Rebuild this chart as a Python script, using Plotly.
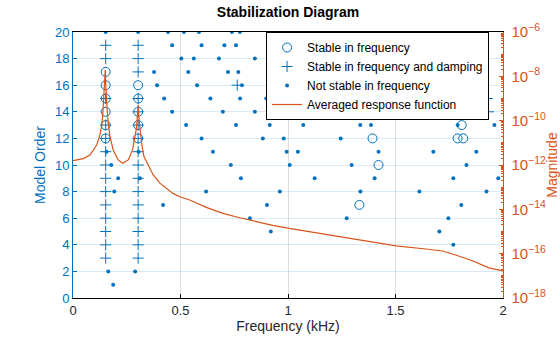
import plotly.graph_objects as go

# ---------------- data ----------------
# Stable in frequency (open circles): frequency (kHz), model order
stab_freq_f = [0.152, 0.152, 0.152, 0.152, 0.152, 0.152,
               0.303, 0.303, 0.303, 0.303, 0.303,
               1.834, 1.820, 1.808, 1.393, 1.789, 1.815, 1.421, 1.332]
stab_freq_o = [12, 13, 14, 15, 16, 17,
               12, 13, 14, 15, 16,
               15, 14, 13, 12, 12, 12, 10, 7]

# Stable in frequency and damping (plus)
stab_damp_f = [0.152] * 14 + [0.303] * 16 + [0.764, 1.610, 1.927, 1.212, 1.932]
stab_damp_o = [3, 4, 5, 6, 7, 8, 9, 10, 11, 12, 13, 15, 18, 19,
               3, 4, 5, 6, 7, 8, 9, 10, 11, 12, 13, 14, 15, 17, 18, 19,
               16, 15, 15, 14, 14]

# Not stable in frequency (dots)
unstab_f = [
    # order 20
    0.152, 0.303, 0.442, 0.516, 0.586, 0.739, 0.776, 0.941, 1.061, 1.196, 1.242,
    1.355, 1.421, 1.595, 1.762, 1.808, 1.877,
    # order 19
    0.461, 0.598, 0.704, 0.758,
    # order 18
    0.504, 0.562, 0.679, 0.846,
    # order 17
    0.377, 0.536, 0.721, 0.769,
    # order 16
    0.391, 0.577, 0.786,
    # order 15
    0.424, 0.639, 0.777, 0.899, 1.092, 1.205, 1.348, 1.630,
    # order 14
    0.461, 0.697, 0.846, 1.004, 1.277, 1.505, 1.666,
    # order 13
    0.526, 0.758, 0.915, 1.071, 1.336, 1.386, 1.789, 1.960,
    # order 12
    0.598, 0.883, 0.980, 1.245,
    # order 11
    0.156, 0.305, 0.651, 0.994, 1.046, 1.421, 1.676, 1.876,
    # order 10
    0.178, 0.734, 1.008, 1.296, 1.830,
    # order 9
    0.210, 0.311, 0.781, 1.124, 1.403, 1.769, 1.978,
    # order 8
    0.192, 0.619, 0.962, 1.337, 1.611, 1.923,
    # order 7
    0.419, 0.902, 1.806,
    # order 6
    0.823, 1.273, 1.746,
    # order 5
    0.920, 1.704,
    # order 4
    1.769,
    # order 2
    0.164, 0.289,
    # order 1
    0.187,
]
unstab_o = ([20] * 17 + [19] * 4 + [18] * 4 + [17] * 4 + [16] * 3 + [15] * 8 +
            [14] * 7 + [13] * 8 + [12] * 4 + [11] * 8 + [10] * 5 + [9] * 7 +
            [8] * 6 + [7] * 3 + [6] * 3 + [5] * 2 + [4] * 1 + [2] * 2 + [1] * 1)

# Averaged response function: frequency (kHz), log10(magnitude)
frf_f = [0.000, 0.048, 0.079, 0.110, 0.125, 0.133, 0.138, 0.142, 0.145, 0.147,
         0.149, 0.150, 0.151, 0.153, 0.156, 0.159, 0.165, 0.172, 0.187, 0.210,
         0.231, 0.257, 0.277, 0.289, 0.294, 0.297, 0.300, 0.302, 0.303, 0.304,
         0.306, 0.310, 0.314, 0.322, 0.330, 0.342, 0.357, 0.373, 0.404, 0.465,
         0.497, 0.543, 0.620, 0.697, 0.775, 0.852, 0.929, 1.006, 1.083, 1.145,
         1.254, 1.409, 1.502, 1.641, 1.718, 1.780, 1.857, 1.935, 2.000]
frf_log = [-11.80, -11.71, -11.55, -11.10, -10.65, -10.25, -9.82, -9.25, -8.77, -8.35,
           -7.95, -7.70, -7.85, -8.55, -9.15, -9.52, -10.20, -10.72, -11.32, -11.77,
           -11.92, -11.77, -11.32, -10.72, -10.40, -10.12, -9.70, -9.35, -9.28, -9.40,
           -9.85, -10.30, -10.57, -11.20, -11.62, -11.85, -12.15, -12.45, -12.82, -13.28,
           -13.43, -13.58, -13.91, -14.18, -14.38, -14.56, -14.72, -14.86, -14.98, -15.10,
           -15.26, -15.50, -15.65, -15.79, -15.88, -16.06, -16.32, -16.64, -16.78]
frf_mag = [10 ** v for v in frf_log]

x_tickvals = [0, 0.5, 1, 1.5, 2]
x_ticktext = ["0", "0.5", "1", "1.5", "2"]

# ---------------- styling ----------------
BLUE = "#0072BD"
ORANGE = "#D95319"
FONT = "Liberation Sans, Arial, sans-serif"

fig = go.Figure()
fig.add_trace(go.Scatter(
    x=stab_freq_f, y=stab_freq_o, mode="markers", name="Stable in frequency",
    marker=dict(symbol="circle-open", size=9, color=BLUE, line=dict(width=1, color=BLUE)),
))
fig.add_trace(go.Scatter(
    x=stab_damp_f, y=stab_damp_o, mode="markers", name="Stable in frequency and damping",
    marker=dict(symbol="cross-thin-open", size=8, color=BLUE, line=dict(width=1, color=BLUE)),
))
fig.add_trace(go.Scatter(
    x=unstab_f, y=unstab_o, mode="markers", name="Not stable in frequency",
    marker=dict(symbol="circle", size=4, color=BLUE),
))
fig.add_trace(go.Scatter(
    x=frf_f, y=frf_mag, mode="lines", name="Averaged response function",
    line=dict(color=ORANGE, width=1.2), yaxis="y2",
))

fig.update_layout(
    width=560, height=337,
    margin=dict(l=73, r=57, t=32, b=39),
    paper_bgcolor="white", plot_bgcolor="white",
    font=dict(family=FONT, size=13, color="#262626"),
    title=dict(text="<b>Stabilization Diagram</b>", x=0.5, xref="paper", xanchor="center",
               y=0.963, yanchor="middle", font=dict(size=14, color="black")),
    showlegend=True,
    legend=dict(x=0.449, y=1.0, xanchor="left", yanchor="top",
                bgcolor="white", bordercolor="black", borderwidth=1,
                font=dict(size=12, color="black"), itemwidth=30,
                tracegroupgap=0),
    xaxis=dict(range=[0, 2], tickvals=x_tickvals, ticktext=x_ticktext,
               ticks="inside", ticklen=4, tickcolor="black", automargin=False,
               showline=True, linecolor="black", linewidth=1, mirror=True,
               showgrid=True, gridcolor="rgba(0,0,0,0.13)", zeroline=False,
               tickfont=dict(size=13, color="#262626"),
               title=dict(text="Frequency (kHz)", font=dict(size=14, color="#262626"), standoff=4)),
    yaxis=dict(range=[0, 20], dtick=2, ticks="inside", ticklen=4, tickcolor=BLUE,
               automargin=False,
               showline=True, linecolor=BLUE, linewidth=1,
               showgrid=True, gridcolor="rgba(0,114,189,0.15)", zeroline=False,
               tickfont=dict(size=13, color=BLUE),
               title=dict(text="Model Order", font=dict(size=14, color=BLUE), standoff=6)),
    yaxis2=dict(type="log", range=[-18, -6], dtick=2, overlaying="y", side="right",
                exponentformat="power", showexponent="all", automargin=False,
                ticks="inside", ticklen=4, tickcolor=ORANGE, ticklabelstandoff=5,
                minor=dict(ticks="inside", ticklen=2, tickcolor=ORANGE, dtick="D1", showgrid=False),
                showline=True, linecolor=ORANGE, linewidth=1,
                showgrid=False, zeroline=False,
                tickfont=dict(size=12, color=ORANGE),
                title=dict(text="Magnitude", font=dict(size=14, color=ORANGE), standoff=0)),
)

fig.write_html("out.html")
